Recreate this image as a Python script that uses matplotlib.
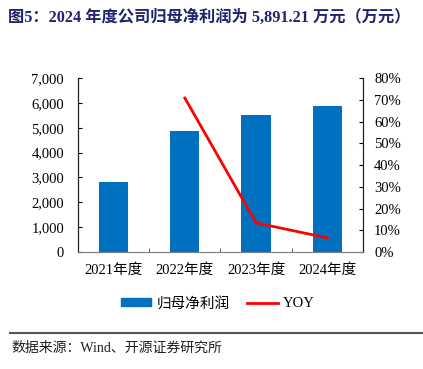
import numpy as np
import matplotlib.pyplot as plt
from matplotlib.patches import Patch
from matplotlib.lines import Line2D
from matplotlib.ticker import FuncFormatter

plt.rcParams['font.family'] = ['Liberation Serif', 'Noto Sans CJK SC']

# data
years = ["2021年度", "2022年度", "2023年度", "2024年度"]
profit = [2830, 4870, 5530, 5891.21]   # 万元
yoy_years = ["2022年度", "2023年度", "2024年度"]
yoy = [70.8, 13.4, 6.5]                 # %

blue = "#0070C0"
red = "#FF0000"

fig = plt.figure(figsize=(4.23, 3.69), dpi=100)
ax = fig.add_axes([0.1844, 0.317, 0.6736, 0.4716])

x = np.arange(len(years))
ax.bar(x, profit, width=0.41, color=blue, zorder=2)
ax.set_xlim(-0.5, 3.5)
ax.set_ylim(0, 7000)
ax.set_yticks(np.arange(0, 7001, 1000))
ax.yaxis.set_major_formatter(FuncFormatter(lambda v, p: f"{int(v):,}"))
ax.set_xticks(x)
ax.set_xticklabels(years)
ax.set_xticks([0.5, 1.5, 2.5], minor=True)
ax.tick_params(axis='x', which='major', length=0, pad=8, labelsize=10.5)
ax.tick_params(axis='x', which='minor', direction='in', length=3, color='#404040')
ax.tick_params(axis='y', direction='in', length=3, labelsize=10.5, pad=10)

ax2 = ax.twinx()
xi = [years.index(y) for y in yoy_years]
ax2.plot(xi, yoy, color=red, lw=2, zorder=3)
ax2.set_ylim(0, 80)
ax2.set_yticks(np.arange(0, 81, 10))
ax2.yaxis.set_major_formatter(FuncFormatter(lambda v, p: f"{int(v)}%"))
ax2.tick_params(axis='y', direction='in', length=3, labelsize=10.5, pad=8)

for a in (ax, ax2):
    a.spines['top'].set_visible(False)
    a.spines['bottom'].set_color('#808080')
    a.spines['left'].set_color('#202020')
    a.spines['right'].set_color('#202020')

handles = [Patch(color=blue), Line2D([0], [0], color=red, lw=2)]
fig.legend(handles, ["归母净利润", "YOY"], loc='center', bbox_to_anchor=(0.515, 0.178),
           ncol=2, frameon=False, fontsize=10.5, handlelength=2.1, handleheight=0.45,
           columnspacing=1.2, handletextpad=0.35)

fig.text(0.019, 0.953, "图5：2024 年度公司归母净利润为 5,891.21 万元（万元）",
         fontsize=11.7, fontweight='bold', color='#22226E', va='center')

sep_y = 1 - 333 / 369
fig.add_artist(Line2D([0.024, 1.0], [sep_y, sep_y], transform=fig.transFigure,
                      color='#555555', lw=1.5))
fig.text(0.026, 1 - 348 / 369, "数据来源：Wind、开源证券研究所", fontsize=10, va='center', color='#202020')

fig.savefig("out.png", dpi=100)
